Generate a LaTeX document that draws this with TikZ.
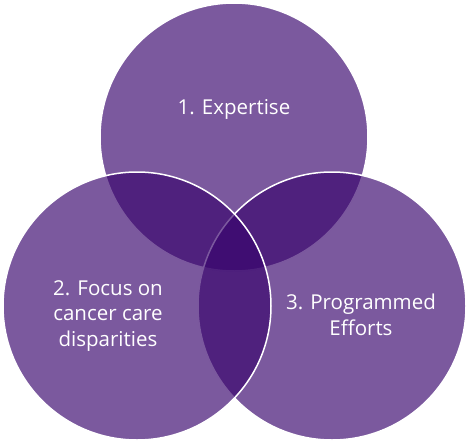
\documentclass[tikz,border=0pt]{standalone}
\usepackage{fontspec}
\setmainfont{Open Sans}
\definecolor{vennfill}{RGB}{55,3,108}
\begin{document}
\begin{tikzpicture}[x=1pt,y=-1pt,
  venn/.style={fill=vennfill, fill opacity=0.66, draw=white, line width=1.5pt},
  lbl/.style={text=white, font=\fontsize{20.5}{25.5}\selectfont, align=center, inner sep=0pt}]
\useasboundingbox (0,0) rectangle (469,442);
\path[venn] (234,137) circle (134);
\path[venn] (332,306) circle (134);
\path[venn] (137,306) circle (134);
\node[lbl] (t1) at (234,109) {1. Expertise};
\node[lbl] (t2) at (108,316) {2. Focus on\\cancer care\\disparities};
\node[lbl] (t3) at (361,315) {3. Programmed\\Efforts};
\end{tikzpicture}
\end{document}
